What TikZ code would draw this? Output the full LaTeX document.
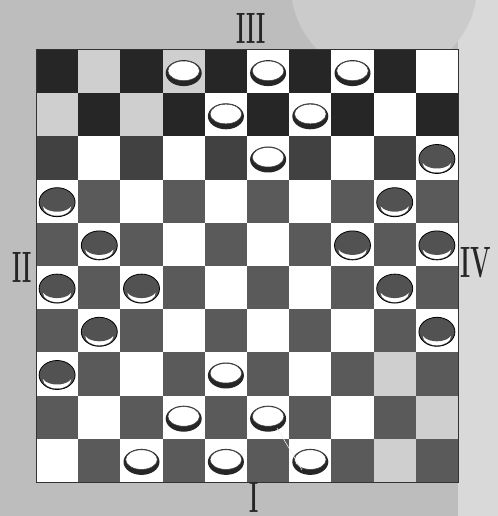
\documentclass[tikz,border=0pt]{standalone}
\usepackage{graphicx}

\definecolor{paper}{HTML}{BDBDBD}
\definecolor{paperlight}{HTML}{D9D9D9}
\definecolor{spot}{HTML}{CBCBCB}
\definecolor{darktop}{HTML}{262626}
\definecolor{darkmid}{HTML}{414141}
\definecolor{darksq}{HTML}{5A5A5A}
\definecolor{greysq}{HTML}{CFCFCF}
\definecolor{piecedark}{HTML}{525252}

\begin{document}
\begin{tikzpicture}[x=1bp, y=-1bp,
    numeral/.style={font=\fontsize{44}{44}\selectfont\bfseries, text=black!85, inner sep=0pt},
    rim/.style={fill=black!85},
    face/.style={fill=white, draw=black!75, line width=0.5pt}]
    % 背景
    \useasboundingbox (0,0) rectangle (498,516);
    \fill[paper] (0,0) rectangle (498,516);
    \fill[paperlight] (458,0) rectangle (498,516);
    \fill[spot] (384,-16) circle (93.4);

    % 棋盘格子
    \foreach \r in {1,...,10}
      \foreach \c in {1,...,10} {
        \pgfmathsetmacro\xl{36+(\c-1)*42.2}
        \pgfmathsetmacro\yt{50+(\r-1)*43.2}
        \pgfmathtruncatemacro\odd{mod(\r+\c,2)}
        \ifnum\odd=0
          \ifnum\r<3 \def\sq{darktop}\else\ifnum\r=3 \def\sq{darkmid}\else\def\sq{darksq}\fi\fi
        \else \def\sq{white}\fi
        \fill[\sq] (\xl,\yt) rectangle ++(42.2,43.2);
      }
    % 偏灰的白格
    \foreach \r/\c in {1/2,1/4,2/1,2/3,8/9,9/10,10/9}
      \fill[greysq] ({36+(\c-1)*42.2},{50+(\r-1)*43.2}) rectangle ++(42.2,43.2);
    \draw[black!80, line width=1pt] (36,50) rectangle (458,482);

    % 白子
    \foreach \r/\c in {1/4,1/6,1/8,2/5,2/7,3/6,8/5,9/4,9/6,10/3,10/5,10/7} {
      \pgfmathsetmacro\px{36+(\c-0.5)*42.2}
      \pgfmathsetmacro\py{50+(\r-0.5)*43.2+1.5}
      \fill[rim] (\px,\py) ellipse [x radius=18, y radius=13];
      \filldraw[face] (\px,\py-2.3) ellipse [x radius=15.8, y radius=9.8];
    }

    % 黑子
    \foreach \r/\c in {3/10,4/1,4/9,5/2,5/8,5/10,6/1,6/3,6/9,7/2,7/10,8/1} {
      \pgfmathsetmacro\px{36+(\c-0.5)*42.2}
      \pgfmathsetmacro\py{50+(\r-0.5)*43.2+1}
      \filldraw[fill=piecedark, draw=black, line width=0.8pt] (\px,\py) ellipse [x radius=18, y radius=14.5];
      \fill[white] (\px,\py+4.5) ellipse [x radius=14, y radius=9];
      \fill[piecedark] (\px,\py-0.5) ellipse [x radius=16, y radius=10];
    }

    % 划痕
    \draw[white!85!gray, line width=0.6pt] (277,428) -- (302,470);

    % 四边编号
    \node[numeral] (side3) at (251,28) {\scalebox{0.5}[1]{III}};
    \node[numeral] (side2) at (22,267) {\scalebox{0.5}[1]{II}};
    \node[numeral] (side4) at (476,263) {\scalebox{0.55}[1]{IV}};
    \node[numeral] (side1) at (254,497) {\scalebox{0.5}[1]{I}};
\end{tikzpicture}
\end{document}
